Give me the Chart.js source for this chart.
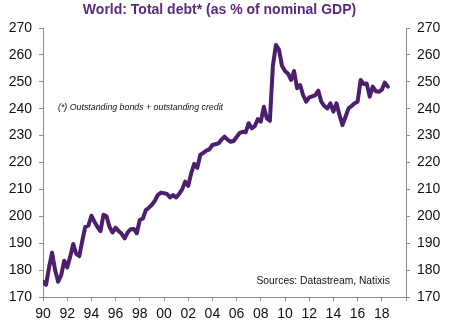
<!DOCTYPE html>
<html>
<head>
<meta charset="utf-8">
<title>World: Total debt</title>
<script src="https://cdn.jsdelivr.net/npm/chart.js@4.4.1/dist/chart.umd.min.js"></script>
<style>
    html, body { margin: 0; padding: 0; background: #ffffff; }
    #wrap { width: 461px; height: 333px; position: relative; }
</style>
</head>
<body>
<div id="wrap"><canvas id="debtChart" width="461" height="333"></canvas></div>
<script>
// First quarter of the series (1990 Q1), one value per quarter
const START_YEAR = 1990;

// World total debt, % of nominal GDP, quarterly
const debtRatio = [
    175.7, 174.5, 181.0, 186.5, 180.0, 175.7, 178.0, 183.5,   // 1990-91
    181.0, 185.0, 189.7, 186.0, 185.2, 191.0, 196.1, 196.5,   // 1992-93
    200.2, 198.0, 196.0, 194.5, 200.6, 200.0, 196.0, 194.0,   // 1994-95
    195.8, 194.5, 193.5, 191.8, 194.0, 195.2, 195.3, 193.7,   // 1996-97
    198.6, 199.2, 202.3, 203.2, 204.3, 205.8, 208.0, 208.8,   // 1998-99
    208.6, 208.3, 207.0, 207.9, 207.0, 208.3, 210.0, 212.9,   // 2000-01
    211.3, 216.0, 219.5, 218.0, 222.8, 223.6, 224.4, 224.9,   // 2002-03
    226.5, 226.8, 227.1, 228.5, 229.6, 228.5, 227.7, 228.0,   // 2004-05
    229.5, 231.0, 231.4, 231.2, 234.6, 232.7, 233.5, 236.1,   // 2006-07
    235.2, 240.7, 236.4, 235.5, 256.0, 263.7, 262.0, 256.0,   // 2008-09
    254.0, 253.0, 250.7, 254.0, 247.6, 248.8, 245.0, 242.6,   // 2010-11
    244.2, 244.6, 245.0, 246.7, 242.6, 241.0, 240.1, 242.0,   // 2012-13
    238.9, 242.0, 237.7, 233.9, 237.0, 240.1, 241.0, 242.0,   // 2014-15
    242.6, 250.7, 249.2, 249.4, 244.5, 248.2, 246.5, 246.3,   // 2016-17
    247.0, 249.7, 248.2                                       // 2018
];

// Axis ranges
const yMin = 170, yMax = 270, yStep = 10;
const xMin = 1990, xMax = 2020, xStep = 2;

const TITLE = 'World: Total debt* (as % of nominal GDP)';
const FOOTNOTE = '(*) Outstanding bonds + outstanding credit';
const SOURCE = 'Sources: Datastream, Natixis';

const LINE_COLOR = '#4b1e6e';
const TITLE_COLOR = '#5a2a82';
const AXIS_COLOR = '#8c8c8c';
const FONT = "'Liberation Sans', Arial, sans-serif";

// Title, footnote and source text drawn straight onto the canvas
const textPlugin = {
    id: 'chartTexts',
    afterDraw(chart) {
        const ctx = chart.ctx;
        const area = chart.chartArea;
        ctx.save();
        ctx.textBaseline = 'alphabetic';

        ctx.fillStyle = TITLE_COLOR;
        ctx.font = `bold 14px ${FONT}`;
        ctx.textAlign = 'center';
        ctx.fillText(TITLE, 219.5, 13.5);

        ctx.fillStyle = '#111111';
        ctx.textAlign = 'left';
        ctx.font = `italic 8.8px ${FONT}`;
        ctx.fillText(FOOTNOTE, area.left + 15, 110);

        ctx.font = `10.3px ${FONT}`;
        ctx.fillText(SOURCE, area.left + 213.5, 284);
        ctx.restore();
    }
};

// Shared look for both value axes
function valueAxis(position, width) {
    return {
        type: 'linear',
        position: position,
        min: yMin,
        max: yMax,
        afterFit: scale => { scale.width = width; },
        ticks: {
            stepSize: yStep,
            padding: 7,
            color: '#111111',
            font: { family: FONT, size: 14 }
        },
        grid: {
            drawOnChartArea: false,
            drawTicks: true,
            tickLength: 4,
            color: AXIS_COLOR
        },
        border: { display: true, color: AXIS_COLOR, width: 1 }
    };
}

function renderChart() {
    const ctx = document.getElementById('debtChart').getContext('2d');
    const points = debtRatio.map((v, i) => ({ x: START_YEAR + i / 4, y: v }));

    new Chart(ctx, {
        type: 'line',
        data: {
            datasets: [{
                label: 'Total debt',
                data: points,
                borderColor: LINE_COLOR,
                borderWidth: 4,
                borderJoinStyle: 'round',
                borderCapStyle: 'round',
                pointRadius: 0,
                tension: 0,
                fill: false,
                yAxisID: 'y'
            }]
        },
        options: {
            responsive: false,
            animation: false,
            devicePixelRatio: 1,
            layout: { padding: { top: 28, left: 0, right: 0, bottom: 0 } },
            plugins: {
                legend: { display: false },
                tooltip: { enabled: false },
                title: { display: false }
            },
            scales: {
                x: {
                    type: 'linear',
                    min: xMin,
                    max: xMax,
                    afterFit: scale => { scale.height = 36; },
                    ticks: {
                        stepSize: xStep,
                        padding: 5,
                        maxRotation: 0,
                        autoSkip: false,
                        color: '#111111',
                        font: { family: FONT, size: 14 },
                        callback: value => value >= xMax ? '' : String(value % 100).padStart(2, '0')
                    },
                    grid: {
                        drawOnChartArea: false,
                        drawTicks: true,
                        tickLength: 4,
                        color: AXIS_COLOR
                    },
                    border: { display: true, color: AXIS_COLOR, width: 1 }
                },
                y: valueAxis('left', 43),
                y2: valueAxis('right', 55)
            }
        },
        plugins: [textPlugin]
    });
}

document.addEventListener('DOMContentLoaded', renderChart);
</script>
</body>
</html>
